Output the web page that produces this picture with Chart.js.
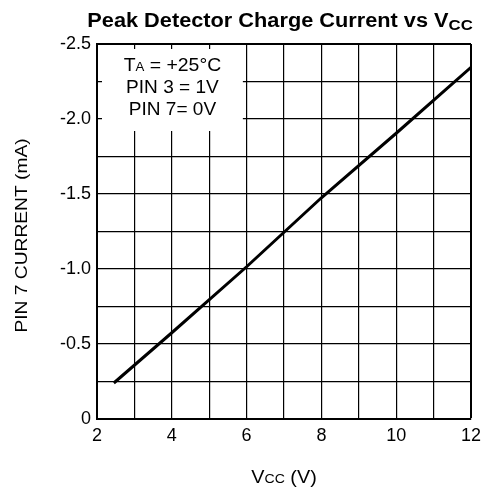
<!DOCTYPE html>
<html><head><meta charset="utf-8">
<script src="https://cdn.jsdelivr.net/npm/chart.js@4/dist/chart.umd.min.js"></script>
<style>html,body{margin:0;padding:0;background:#fff;}#wrap{width:488px;height:489px;position:relative;}</style>
</head><body><div id="wrap"><canvas id="c" width="488" height="489"></canvas></div>
<script>
// ---- data ----
const vccValues   = [2.45, 4, 6, 8, 10, 12];
const pin7Current = [-0.24, -0.575, -1.015, -1.475, -1.905, -2.345];
const xLabelledTicks = [2, 4, 6, 8, 10, 12];
const yLabelledTicks = [-2.5, -2.0, -1.5, -1.0, -0.5, 0];
const titleMain = 'Peak Detector Charge Current vs V';
const titleSub = 'CC';
const yTitle = 'PIN 7 CURRENT (mA)';
const legendLine1 = ['T', 'A', ' = +25°C'];
const legendLine2 = 'PIN 3 = 1V';
const legendLine3 = 'PIN 7= 0V';

const FAM = '"Liberation Sans", Arial, Helvetica, sans-serif';

function drawParts(ctx, parts, x, y, align, sx, rot) {
  ctx.save();
  let total = 0;
  parts.forEach(p => { ctx.font = p.font; p.w = ctx.measureText(p.t).width; total += p.w; });
  ctx.translate(x, y);
  if (rot) ctx.rotate(rot);
  ctx.scale(sx, 1);
  let cx = align === 'center' ? -total / 2 : 0;
  ctx.textBaseline = 'alphabetic';
  ctx.textAlign = 'left';
  ctx.fillStyle = '#000';
  parts.forEach(p => { ctx.font = p.font; ctx.fillText(p.t, cx, p.dy || 0); cx += p.w; });
  ctx.restore();
}

const annotations = {
  id: 'annotations',
  beforeDatasetsDraw(chart) {
    const ctx = chart.ctx, a = chart.chartArea, xs = chart.scales.x, ys = chart.scales.y;
    const left = a.left + 5, top = a.top + 5;
    const right = xs.getPixelForValue(5.9), bottom = ys.getPixelForValue(-1.92);
    ctx.save();
    ctx.fillStyle = '#fff';
    ctx.fillRect(left, top, right - left, bottom - top);
    ctx.restore();
    const cx = (left + right) / 2;
    drawParts(ctx, [
      {t: legendLine1[0], font: '18.5px ' + FAM},
      {t: legendLine1[1], font: '12.6px ' + FAM},
      {t: legendLine1[2], font: '18.5px ' + FAM}
    ], cx, a.top + 26.7, 'center', 1.05);
    drawParts(ctx, [{t: legendLine2, font: '18.5px ' + FAM}], cx, a.top + 49.3, 'center', 1.03);
    drawParts(ctx, [{t: legendLine3, font: '18.5px ' + FAM}], cx, a.top + 71, 'center', 1.03);
  },
  afterDraw(chart) {
    const ctx = chart.ctx, a = chart.chartArea;
    drawParts(ctx, [
      {t: titleMain, font: 'bold 19.5px ' + FAM},
      {t: titleSub, font: 'bold 15px ' + FAM, dy: 3.3}
    ], 87.3, 26.7, 'left', 1.115);
    drawParts(ctx, [
      {t: 'V', font: '17.7px ' + FAM},
      {t: 'CC', font: '12.6px ' + FAM},
      {t: ' (V)', font: '17.7px ' + FAM}
    ], (a.left + a.right) / 2, 483.3, 'center', 1.12);
    drawParts(ctx, [{t: yTitle, font: '17px ' + FAM}], 26.7, (a.top + a.bottom) / 2 + 4, 'center', 1.13, -Math.PI / 2);
  }
};

const isLabelled = (arr, v) => arr.some(t => Math.abs(t - v) < 1e-6);

new Chart(document.getElementById('c'), {
  type: 'line',
  data: {
    datasets: [{
      data: vccValues.map((v, i) => ({x: v, y: pin7Current[i]})),
      borderColor: '#000',
      borderWidth: 3,
      pointRadius: 0,
      tension: 0,
      fill: false
    }]
  },
  options: {
    responsive: false,
    animation: false,
    devicePixelRatio: 1,
    layout: {padding: {top: 44, right: 17, left: 0, bottom: 0}},
    plugins: {legend: {display: false}, title: {display: false}, tooltip: {enabled: false}},
    scales: {
      x: {
        type: 'linear', min: 2, max: 12,
        afterFit: s => { s.height = 70; },
        ticks: {
          stepSize: 1, autoSkip: false, maxRotation: 0, padding: 6, color: '#000',
          font: {family: FAM, size: 18},
          callback: v => isLabelled(xLabelledTicks, v) ? String(v) : ''
        },
        grid: {color: '#000', drawTicks: false, lineWidth: c => (c.tick && c.tick.value === 12) ? 2 : 1.2},
        border: {color: '#000', width: 2}
      },
      y: {
        type: 'linear', min: -2.5, max: 0, reverse: true,
        afterFit: s => { s.width = 97; },
        ticks: {
          stepSize: 0.25, autoSkip: false, padding: 6, color: '#000',
          font: {family: FAM, size: 18},
          callback: v => isLabelled(yLabelledTicks, v) ? (Math.abs(v) < 1e-9 ? '0' : v.toFixed(1)) : ''
        },
        grid: {color: '#000', drawTicks: false, lineWidth: c => (c.tick && Math.abs(c.tick.value + 2.5) < 1e-6) ? 2 : 1.2},
        border: {color: '#000', width: 2}
      }
    }
  },
  plugins: [annotations]
});
</script></body></html>
